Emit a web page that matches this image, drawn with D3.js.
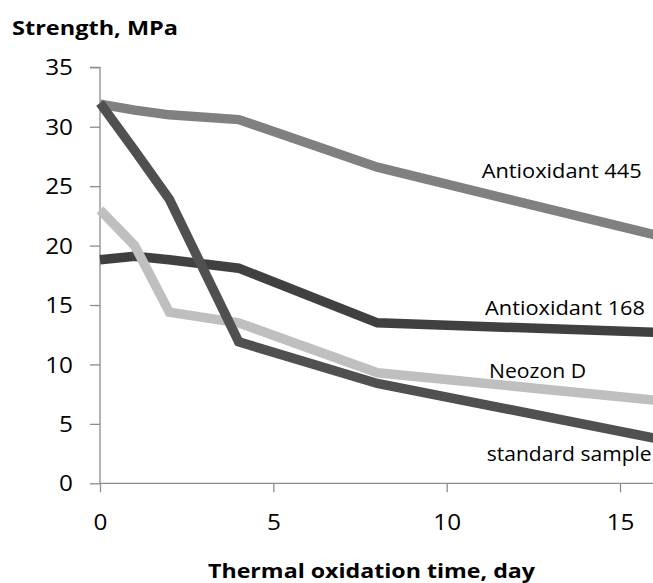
<!DOCTYPE html>
<html><head><meta charset="utf-8">
<script src="https://cdn.jsdelivr.net/npm/d3@7"></script>
<style>body{margin:0;background:#fff}svg{display:block}text{font-family:"Open Sans",Lato,sans-serif}</style>
</head><body><svg id="c" width="653" height="583"></svg>
<script>
const days = [0, 1, 2, 4, 8, 16];
const antioxidant445 = [31.9, 31.4, 31.0, 30.6, 26.6, 20.9];
const antioxidant168 = [18.8, 19.1, 18.8, 18.1, 13.5, 12.7];
const neozonD = [23.0, 20.0, 14.4, 13.5, 9.3, 7.0];
const standardSample = [32.0, 28.0, 23.9, 11.9, 8.4, 3.8];
const seriesNames = ["Antioxidant 445", "Antioxidant 168", "Neozon D", "standard sample"];
const yTicks = [0, 5, 10, 15, 20, 25, 30, 35];
const xTicks = [0, 5, 10, 15];

const svg = d3.select("#c");
const x = d3.scaleLinear().domain([0, 16]).range([100, 654.7]);
const y = d3.scaleLinear().domain([0, 35]).range([483.3, 67.3]);

const series = [
  {name: seriesNames[0], vals: antioxidant445, color: "#808080", lx: 481.7, ly: 178, w: 160},
  {name: seriesNames[1], vals: antioxidant168, color: "#404040", lx: 485, ly: 315, w: 160},
  {name: seriesNames[2], vals: neozonD, color: "#bfbfbf", lx: 489, ly: 378, w: 97},
  {name: seriesNames[3], vals: standardSample, color: "#505050", lx: 486.7, ly: 461, w: 165}
];

// axes
const yAxis = svg.append("g").attr("transform", "translate(100,0)")
  .call(d3.axisLeft(y).tickValues(yTicks).tickSize(10).tickPadding(17));
const xAxis = svg.append("g").attr("transform", "translate(0,483.3)")
  .call(d3.axisBottom(x).tickValues(xTicks).tickSize(9).tickPadding(20));
[yAxis, xAxis].forEach(a => {
  a.select(".domain").attr("stroke", "#8c8c8c").attr("stroke-width", 1.3);
  a.selectAll(".tick line").attr("stroke", "#8c8c8c").attr("stroke-width", 1.3);
  a.selectAll(".tick text").attr("font-size", 21).attr("fill", "#000")
   .style("font-family", "'Open Sans', Lato, sans-serif")
   .attr("textLength", d => String(d).length * 13.9)
   .attr("lengthAdjust", "spacingAndGlyphs");
});
yAxis.select(".domain").attr("d", "M-10,67.3H0V483.3");
xAxis.select(".domain").attr("d", "M100,0H654");
xAxis.selectAll(".tick text").attr("dy", "0.85em");
yAxis.selectAll(".tick text").attr("dy", "0.36em");

// lines
const line = d3.line().x((d, i) => x(days[i])).y(d => y(d));
svg.append("g").selectAll("path").data(series).join("path")
  .attr("d", d => line(d.vals))
  .attr("fill", "none")
  .attr("stroke", d => d.color)
  .attr("stroke-width", 9.5)
  .attr("stroke-linejoin", "miter");

// labels
svg.append("g").selectAll("text").data(series).join("text")
  .attr("x", d => d.lx).attr("y", d => d.ly)
  .attr("font-size", 20).attr("fill", "#000")
  .attr("textLength", d => d.w).attr("lengthAdjust", "spacingAndGlyphs")
  .text(d => d.name);

// titles
svg.append("text").attr("x", 12).attr("y", 35).attr("font-size", 20)
  .attr("font-weight", "bold").attr("textLength", 166).attr("lengthAdjust", "spacingAndGlyphs")
  .text("Strength, MPa");
svg.append("text").attr("x", 208).attr("y", 578).attr("font-size", 20)
  .attr("font-weight", "bold").attr("textLength", 327).attr("lengthAdjust", "spacingAndGlyphs")
  .text("Thermal oxidation time, day");
</script></body></html>
